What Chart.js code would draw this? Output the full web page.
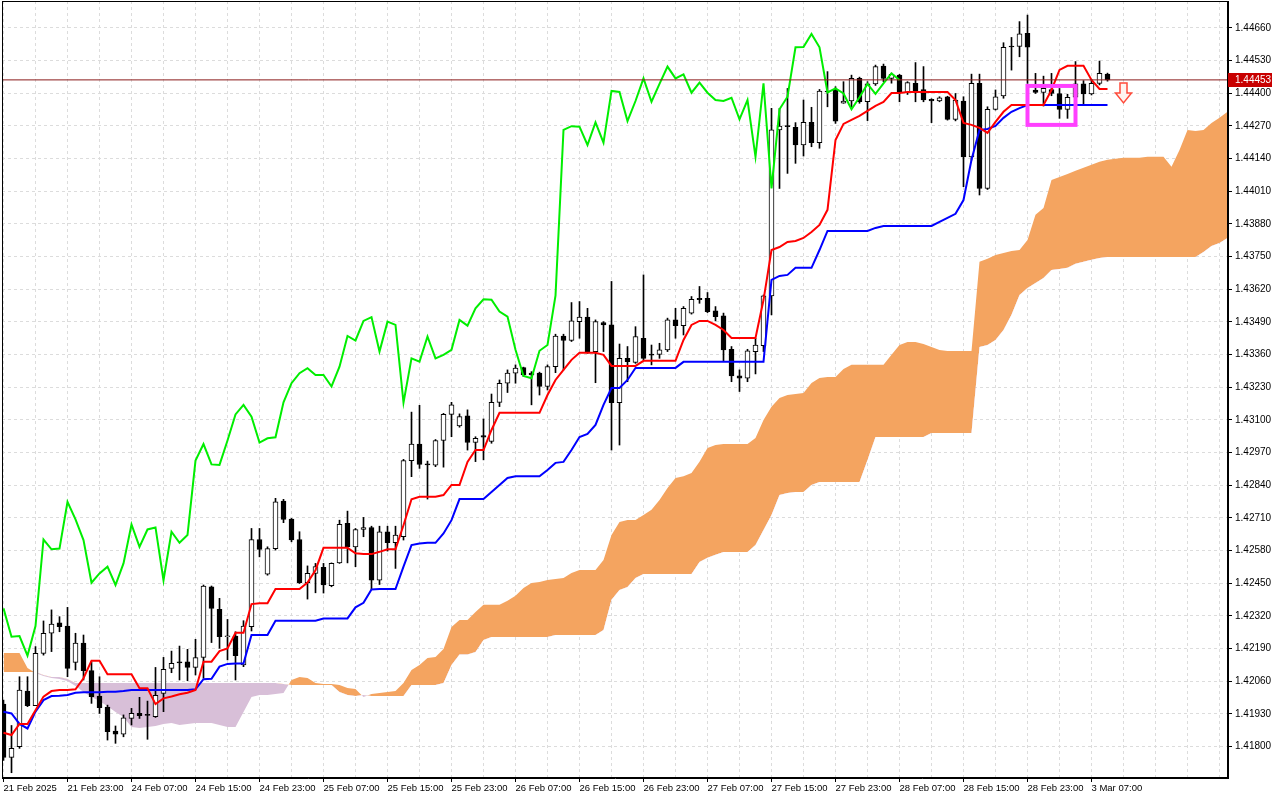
<!DOCTYPE html>
<html>
<head>
<meta charset="utf-8">
<title>H1 Ichimoku</title>
<script src="https://cdn.jsdelivr.net/npm/chart.js@4.4.1/dist/chart.umd.min.js"></script>
<style>
  html, body { margin: 0; padding: 0; background: #fff; }
  #wrap { width: 1280px; height: 800px; }
</style>
</head>
<body>
<div id="wrap"><canvas id="ichimoku" width="1280" height="800"></canvas></div>
<script>
// one bar per hour, bar 0 = 21 Feb 15:00, a label every 8 bars
var xTickLabels = ['21 Feb 2025', '21 Feb 23:00', '24 Feb 07:00', '24 Feb 15:00', '24 Feb 23:00',
  '25 Feb 07:00', '25 Feb 15:00', '25 Feb 23:00', '26 Feb 07:00', '26 Feb 15:00', '26 Feb 23:00',
  '27 Feb 07:00', '27 Feb 15:00', '27 Feb 23:00', '28 Feb 07:00', '28 Feb 15:00', '28 Feb 23:00',
  '3 Mar 07:00'];

var yTicks = [1.41800, 1.41930, 1.42060, 1.42190, 1.42320, 1.42450, 1.42580, 1.42710, 1.42840,
  1.42970, 1.43100, 1.43230, 1.43360, 1.43490, 1.43620, 1.43750, 1.43880, 1.44010, 1.44140,
  1.44270, 1.44400, 1.44530, 1.44660];

var opens = [1.41969,1.41757,1.41800,1.42021,1.41963,1.42171,1.42251,1.42292,1.42280,1.42135,
  1.42212,1.42102,1.42001,1.41957,1.41862,1.41849,1.41912,1.41932,1.41926,1.41919,
  1.42012,1.42111,1.42133,1.42137,1.42115,1.42155,1.42436,1.42346,1.42237,1.42240,
  1.42125,1.42277,1.42624,1.42486,1.42588,1.42777,1.42705,1.42624,1.42452,1.42489,
  1.42513,1.42440,1.42531,1.42688,1.42595,1.42664,1.42672,1.42462,1.42655,1.42611,
  1.42635,1.42938,1.43004,1.42922,1.42920,1.43018,1.43122,1.43076,1.43116,1.43010,
  1.43038,1.43014,1.43170,1.43246,1.43286,1.43308,1.43286,1.43286,1.43233,1.43312,
  1.43434,1.43416,1.43491,1.43509,1.43372,1.43487,1.43478,1.43169,1.43345,1.43329,
  1.43425,1.43358,1.43361,1.43379,1.43498,1.43475,1.43525,1.43584,1.43584,1.43534,
  1.43514,1.43381,1.43275,1.43266,1.43372,1.43395,1.43593,1.44254,1.44267,1.44264,
  1.44194,1.44284,1.44203,1.44409,1.44415,1.44360,1.44369,1.44459,1.44366,1.44437,
  1.44508,1.44459,1.44472,1.44402,1.44439,1.44415,1.44376,1.44369,1.44386,1.44296,
  1.44369,1.44147,1.44439,1.44021,1.44336,1.44389,1.44586,1.44586,1.44638,1.44413,
  1.44403,1.44415,1.44399,1.44336,1.44384,1.44437,1.44397,1.44439,1.44476];

var highs = [1.41985,1.41884,1.42078,1.42078,1.42198,1.42300,1.42344,1.42317,1.42354,1.42251,
  1.42244,1.42138,1.42078,1.41965,1.41882,1.41926,1.41952,1.41996,1.41981,1.42115,
  1.42155,1.42180,1.42200,1.42187,1.42227,1.42443,1.42439,1.42390,1.42306,1.42257,
  1.42301,1.42668,1.42668,1.42595,1.42788,1.42784,1.42708,1.42655,1.42519,1.42529,
  1.42529,1.42531,1.42701,1.42737,1.42668,1.42712,1.42677,1.42677,1.42677,1.42677,
  1.42943,1.43131,1.43158,1.42936,1.43022,1.43126,1.43170,1.43124,1.43140,1.43033,
  1.43104,1.43203,1.43259,1.43299,1.43319,1.43310,1.43292,1.43290,1.43319,1.43441,
  1.43441,1.43567,1.43571,1.43544,1.43498,1.43491,1.43651,1.43402,1.43392,1.43471,
  1.43677,1.43398,1.43405,1.43505,1.43544,1.43551,1.43591,1.43631,1.43607,1.43551,
  1.43525,1.43392,1.43299,1.43381,1.43425,1.43597,1.44340,1.44340,1.44419,1.44283,
  1.44373,1.44344,1.44415,1.44486,1.44426,1.44446,1.44472,1.44464,1.44446,1.44512,
  1.44516,1.44480,1.44475,1.44446,1.44522,1.44506,1.44378,1.44386,1.44388,1.44399,
  1.44386,1.44476,1.44476,1.44346,1.44413,1.44601,1.44622,1.44685,1.44711,1.44479,
  1.44468,1.44479,1.44419,1.44396,1.44526,1.44450,1.44453,1.44528,1.44480];

var lows = [1.41745,1.41696,1.41793,1.41959,1.41963,1.42164,1.42178,1.42257,1.42078,1.42105,
  1.42065,1.41972,1.41932,1.41826,1.41813,1.41839,1.41886,1.41912,1.41829,1.41916,
  1.41939,1.42094,1.42065,1.42062,1.42085,1.42072,1.42214,1.42191,1.42145,1.42065,
  1.42118,1.42260,1.42555,1.42482,1.42582,1.42691,1.42615,1.42449,1.42387,1.42412,
  1.42411,1.42436,1.42529,1.42531,1.42516,1.42635,1.42425,1.42445,1.42578,1.42509,
  1.42622,1.42874,1.42907,1.42785,1.42914,1.42912,1.43033,1.43071,1.42980,1.42934,
  1.42941,1.43007,1.43153,1.43209,1.43246,1.43272,1.43160,1.43199,1.43219,1.43288,
  1.43299,1.43412,1.43425,1.43365,1.43248,1.43372,1.42980,1.43000,1.43252,1.43325,
  1.43339,1.43319,1.43345,1.43372,1.43425,1.43438,1.43521,1.43564,1.43527,1.43494,
  1.43332,1.43252,1.43213,1.43252,1.43283,1.43372,1.43518,1.44021,1.44081,1.44121,
  1.44150,1.44187,1.44181,1.44346,1.44280,1.44360,1.44340,1.44360,1.44291,1.44431,
  1.44446,1.44440,1.44366,1.44395,1.44366,1.44366,1.44283,1.44366,1.44293,1.44290,
  1.44028,1.44134,1.43995,1.44017,1.44333,1.44380,1.44492,1.44545,1.44439,1.44399,
  1.44349,1.44390,1.44300,1.44300,1.44370,1.44357,1.44393,1.44433,1.44448];

var closes = [1.41757,1.41793,1.42025,1.41963,1.42171,1.42251,1.42288,1.42277,1.42111,1.42212,
  1.42102,1.41999,1.41955,1.41859,1.41849,1.41914,1.41932,1.41923,1.41924,1.42004,
  1.42107,1.42131,1.42134,1.42115,1.42154,1.42439,1.42350,1.42237,1.42240,1.42162,
  1.42280,1.42624,1.42585,1.42588,1.42774,1.42704,1.42622,1.42452,1.42489,1.42516,
  1.42443,1.42529,1.42684,1.42595,1.42664,1.42672,1.42462,1.42655,1.42611,1.42642,
  1.42938,1.43004,1.42923,1.42921,1.43018,1.43122,1.43160,1.43113,1.43010,1.43027,
  1.43031,1.43170,1.43246,1.43286,1.43306,1.43279,1.43279,1.43233,1.43312,1.43434,
  1.43416,1.43494,1.43509,1.43372,1.43491,1.43478,1.43169,1.43345,1.43332,1.43432,
  1.43345,1.43359,1.43379,1.43498,1.43475,1.43544,1.43580,1.43578,1.43531,1.43511,
  1.43379,1.43275,1.43266,1.43375,1.43398,1.43594,1.44254,1.44269,1.44267,1.44194,
  1.44284,1.44203,1.44409,1.44405,1.44289,1.44369,1.44459,1.44366,1.44437,1.44506,
  1.44459,1.44475,1.44402,1.44442,1.44402,1.44373,1.44369,1.44382,1.44296,1.44373,
  1.44147,1.44439,1.44021,1.44336,1.44386,1.44583,1.44584,1.44636,1.44583,1.44403,
  1.44419,1.44399,1.44336,1.44384,1.44437,1.44397,1.44439,1.44479,1.44453];

// red line
var tenkan = [1.41855,1.41846,1.41890,1.41890,1.41945,1.41999,1.42021,1.42025,1.42025,1.42028,
  1.42072,1.42142,1.42142,1.42088,1.42088,1.42088,1.42088,1.42032,1.42032,1.41969,
  1.41992,1.41999,1.42008,1.42014,1.42025,1.42138,1.42138,1.42180,1.42191,1.42253,
  1.42253,1.42367,1.42370,1.42370,1.42427,1.42427,1.42427,1.42427,1.42453,1.42502,
  1.42591,1.42591,1.42591,1.42591,1.42569,1.42566,1.42566,1.42575,1.42585,1.42585,
  1.42681,1.42784,1.42794,1.42794,1.42794,1.42801,1.42841,1.42841,1.42933,1.42980,
  1.42980,1.43060,1.43128,1.43128,1.43128,1.43128,1.43128,1.43128,1.43199,1.43259,
  1.43299,1.43339,1.43367,1.43367,1.43367,1.43359,1.43315,1.43315,1.43315,1.43315,
  1.43335,1.43335,1.43335,1.43335,1.43335,1.43418,1.43478,1.43494,1.43494,1.43478,
  1.43458,1.43426,1.43426,1.43426,1.43426,1.43577,1.43776,1.43788,1.43808,1.43812,
  1.43824,1.43848,1.43876,1.43936,1.44214,1.44278,1.44294,1.44310,1.44330,1.44350,
  1.44365,1.44401,1.44401,1.44405,1.44405,1.44405,1.44405,1.44405,1.44405,1.44373,
  1.44282,1.44274,1.44262,1.44242,1.44286,1.44326,1.44353,1.44353,1.44353,1.44353,
  1.44353,1.44413,1.44493,1.44509,1.44509,1.44509,1.44453,1.44417,1.44417];

// blue line
var kijun = [1.41939,1.41932,1.41890,1.41872,1.41939,1.41985,1.42001,1.42002,1.42005,1.42014,
  1.42016,1.42016,1.42016,1.42018,1.42018,1.42021,1.42025,1.42025,1.42025,1.42025,
  1.42025,1.42025,1.42025,1.42025,1.42028,1.42068,1.42070,1.42118,1.42129,1.42131,
  1.42131,1.42244,1.42244,1.42244,1.42301,1.42301,1.42301,1.42301,1.42301,1.42301,
  1.42310,1.42310,1.42310,1.42310,1.42354,1.42372,1.42425,1.42427,1.42427,1.42427,
  1.42516,1.42602,1.42608,1.42611,1.42611,1.42648,1.42701,1.42785,1.42785,1.42785,
  1.42785,1.42813,1.42841,1.42869,1.42876,1.42876,1.42876,1.42876,1.42901,1.42929,
  1.42933,1.42980,1.43032,1.43044,1.43080,1.43160,1.43227,1.43227,1.43259,1.43307,
  1.43307,1.43307,1.43307,1.43307,1.43307,1.43331,1.43331,1.43331,1.43331,1.43331,
  1.43331,1.43331,1.43331,1.43331,1.43331,1.43331,1.43657,1.43673,1.43677,1.43705,
  1.43705,1.43705,1.43776,1.43852,1.43852,1.43852,1.43852,1.43852,1.43852,1.43864,
  1.43872,1.43872,1.43872,1.43872,1.43872,1.43872,1.43872,1.43888,1.43904,1.43920,
  1.43975,1.44135,1.44254,1.44258,1.44270,1.44302,1.44326,1.44341,1.44353,1.44353,
  1.44353,1.44353,1.44353,1.44353,1.44353,1.44353,1.44353,1.44353,1.44353];

// green line, plotted 26 bars back
var chikou = [1.42350,1.42237,1.42240,1.42162,1.42280,1.42624,1.42585,1.42588,1.42774,1.42704,
  1.42622,1.42452,1.42489,1.42516,1.42443,1.42529,1.42684,1.42595,1.42664,1.42672,
  1.42462,1.42655,1.42611,1.42642,1.42938,1.43004,1.42923,1.42921,1.43018,1.43122,
  1.43160,1.43113,1.43010,1.43027,1.43031,1.43170,1.43246,1.43286,1.43306,1.43279,
  1.43279,1.43233,1.43312,1.43434,1.43416,1.43494,1.43509,1.43372,1.43491,1.43478,
  1.43169,1.43345,1.43332,1.43432,1.43345,1.43359,1.43379,1.43498,1.43475,1.43544,
  1.43580,1.43578,1.43531,1.43511,1.43379,1.43275,1.43266,1.43375,1.43398,1.43594,
  1.44254,1.44269,1.44267,1.44194,1.44284,1.44203,1.44409,1.44405,1.44289,1.44369,
  1.44459,1.44366,1.44437,1.44506,1.44459,1.44475,1.44402,1.44442,1.44402,1.44373,
  1.44369,1.44382,1.44296,1.44373,1.44147,1.44439,1.44021,1.44336,1.44386,1.44583,
  1.44584,1.44636,1.44583,1.44403,1.44419,1.44399,1.44336,1.44384,1.44437,1.44397,
  1.44439,1.44479,1.44453];

// cloud, runs 15 bars past the last candle
var senkouA = [1.42172,1.42172,1.42172,1.42113,1.42093,1.42081,1.42073,1.42069,1.42061,1.42041,
  1.42017,1.41997,1.41981,1.41961,1.41938,1.41918,1.41878,1.41874,1.41878,1.41882,
  1.41890,1.41894,1.41886,1.41890,1.41894,1.41894,1.41894,1.41886,1.41878,1.41878,
  1.41938,1.41997,1.42005,1.42005,1.42009,1.42013,1.42065,1.42077,1.42073,1.42053,
  1.42049,1.42049,1.42045,1.42033,1.42029,1.41997,1.42009,1.42013,1.42017,1.42021,
  1.42053,1.42105,1.42125,1.42153,1.42157,1.42188,1.42276,1.42304,1.42304,1.42336,
  1.42364,1.42364,1.42364,1.42380,1.42400,1.42431,1.42451,1.42455,1.42463,1.42467,
  1.42471,1.42491,1.42503,1.42503,1.42503,1.42543,1.42642,1.42694,1.42702,1.42702,
  1.42722,1.42742,1.42781,1.42829,1.42869,1.42876,1.42889,1.42933,1.42988,1.43000,
  1.43004,1.43004,1.43004,1.43004,1.43028,1.43100,1.43152,1.43187,1.43199,1.43203,
  1.43207,1.43247,1.43267,1.43271,1.43271,1.43303,1.43319,1.43319,1.43319,1.43319,
  1.43319,1.43359,1.43398,1.43410,1.43410,1.43402,1.43390,1.43378,1.43374,1.43374,
  1.43374,1.43374,1.43729,1.43741,1.43756,1.43764,1.43772,1.43776,1.43816,1.43916,
  1.43943,1.44055,1.44067,1.44079,1.44091,1.44103,1.44115,1.44127,1.44135,1.44139,
  1.44143,1.44143,1.44143,1.44147,1.44147,1.44147,1.44107,1.44174,1.44254,1.44250,
  1.44254,1.44282,1.44302,1.44326];

var senkouB = [1.42097,1.42097,1.42097,1.42097,1.42097,1.42085,1.42077,1.42077,1.42069,1.42053,
  1.42053,1.42053,1.42053,1.42053,1.42053,1.42053,1.42053,1.42053,1.42053,1.42053,
  1.42053,1.42053,1.42053,1.42053,1.42053,1.42053,1.42053,1.42053,1.42053,1.42053,
  1.42053,1.42053,1.42053,1.42053,1.42053,1.42049,1.42045,1.42045,1.42045,1.42045,
  1.42045,1.42045,1.42017,1.42005,1.42001,1.42005,1.42001,1.42001,1.42001,1.42001,
  1.42001,1.42045,1.42045,1.42045,1.42045,1.42053,1.42125,1.42166,1.42166,1.42176,
  1.42224,1.42236,1.42236,1.42236,1.42236,1.42236,1.42236,1.42236,1.42236,1.42244,
  1.42244,1.42244,1.42244,1.42244,1.42244,1.42264,1.42384,1.42423,1.42435,1.42471,
  1.42487,1.42487,1.42487,1.42487,1.42487,1.42487,1.42487,1.42535,1.42551,1.42563,
  1.42574,1.42574,1.42574,1.42574,1.42602,1.42662,1.42722,1.42801,1.42809,1.42813,
  1.42813,1.42841,1.42853,1.42853,1.42853,1.42853,1.42853,1.42853,1.42940,1.43032,
  1.43032,1.43032,1.43032,1.43032,1.43032,1.43032,1.43048,1.43048,1.43048,1.43048,
  1.43048,1.43048,1.43390,1.43398,1.43418,1.43458,1.43518,1.43597,1.43625,1.43645,
  1.43665,1.43697,1.43701,1.43705,1.43721,1.43729,1.43737,1.43744,1.43748,1.43748,
  1.43748,1.43748,1.43748,1.43748,1.43748,1.43748,1.43748,1.43748,1.43748,1.43748,
  1.43768,1.43792,1.43804,1.43824];

var lastPrice = 1.44453;

// marked range and sell arrow
var boxFrom = 128, boxTo = 134, boxHigh = 1.44429, boxLow = 1.44274;
var arrowBar = 140, arrowTop = 1.44441;

var xMin = -0.1875, xMax = 153.0625;
var yMin = 1.41675, yMax = 1.44767;

function pts(arr) {
  return arr.map(function (v, i) { return { x: i, y: v }; });
}

function isLabelTick(v) {
  return v % 8 === 0 && xTickLabels[v / 8] !== undefined;
}

// no label padding around the plot, MT4 style
function noPad(scale) {
  scale.paddingTop = 0;
  scale.paddingBottom = 0;
  scale.paddingLeft = 0;
  scale.paddingRight = 0;
}

var frame = {
  id: 'frame',
  beforeDraw: function (chart) {
    var ctx = chart.ctx;
    ctx.save();
    ctx.fillStyle = '#fff';
    ctx.fillRect(0, 0, chart.width, chart.height);
    ctx.restore();
  },
  afterDraw: function (chart) {
    var ctx = chart.ctx, a = chart.chartArea;
    var xs = chart.scales.x, ys = chart.scales.y;
    ctx.save();

    // magenta box
    var bx1 = xs.getPixelForValue(boxFrom), bx2 = xs.getPixelForValue(boxTo);
    var by1 = ys.getPixelForValue(boxHigh), by2 = ys.getPixelForValue(boxLow);
    ctx.strokeStyle = '#ff40ff';
    ctx.lineWidth = 4;
    ctx.strokeRect(bx1, by1, bx2 - bx1, by2 - by1);

    // down arrow
    var cx = xs.getPixelForValue(arrowBar), ty = ys.getPixelForValue(arrowTop);
    ctx.beginPath();
    ctx.moveTo(cx - 3.5, ty);
    ctx.lineTo(cx + 3.5, ty);
    ctx.lineTo(cx + 3.5, ty + 10);
    ctx.lineTo(cx + 8, ty + 10);
    ctx.lineTo(cx, ty + 20);
    ctx.lineTo(cx - 8, ty + 10);
    ctx.lineTo(cx - 3.5, ty + 10);
    ctx.closePath();
    ctx.fillStyle = '#fff4f0';
    ctx.fill();
    ctx.strokeStyle = '#ff4a3a';
    ctx.lineWidth = 1.5;
    ctx.stroke();

    // frame
    ctx.strokeStyle = '#000';
    ctx.lineWidth = 1;
    ctx.strokeRect(a.left + 0.5, a.top + 0.5, a.right - a.left - 1, a.bottom - a.top - 1);

    // last price tag
    var py = Math.round(ys.getPixelForValue(lastPrice));
    ctx.fillStyle = '#c80000';
    ctx.fillRect(a.right, py - 7, 44, 14);
    ctx.fillStyle = '#fff';
    ctx.font = '10px "Liberation Sans", Arial, sans-serif';
    ctx.textBaseline = 'middle';
    ctx.textAlign = 'left';
    ctx.fillText(lastPrice.toFixed(5), a.right + 7, py + 0.5);
    ctx.restore();
  }
};

Chart.defaults.font.family = '"Liberation Sans", Arial, sans-serif';
Chart.defaults.font.size = 10;
Chart.defaults.color = '#000';

var ctx = document.getElementById('ichimoku');

var chart = new Chart(ctx, {
  type: 'line',
  data: {
    datasets: [{
      label: 'Senkou A',
      data: pts(senkouA),
      borderColor: 'rgba(0,0,0,0)',
      borderWidth: 0,
      pointRadius: 0,
      fill: { target: '+1', above: '#f4a460', below: '#d8bfd8' },
      order: 10
    }, {
      label: 'Senkou B',
      data: pts(senkouB),
      borderColor: 'rgba(0,0,0,0)',
      borderWidth: 0,
      pointRadius: 0,
      fill: false,
      order: 10
    }, {
      type: 'bar',
      label: 'Wicks',
      data: lows.map(function (l, i) { return { x: i, y: [l, highs[i]] }; }),
      backgroundColor: '#000',
      barThickness: 1,
      grouped: false,
      order: 6
    }, {
      type: 'bar',
      label: 'Bodies',
      data: opens.map(function (o, i) { return { x: i, y: [o, closes[i]] }; }),
      backgroundColor: function (c) {
        var i = c.dataIndex;
        return closes[i] - opens[i] > 0.00003 ? '#fff' : '#000';
      },
      borderColor: '#000',
      borderWidth: 1,
      borderSkipped: false,
      barThickness: 5,
      minBarLength: 1,
      grouped: false,
      order: 5
    }, {
      label: 'Chikou',
      data: pts(chikou),
      borderColor: '#00ee00',
      borderWidth: 2,
      pointRadius: 0,
      order: 3
    }, {
      label: 'Kijun',
      data: pts(kijun),
      borderColor: '#0000ff',
      borderWidth: 2,
      pointRadius: 0,
      order: 2
    }, {
      label: 'Tenkan',
      data: pts(tenkan),
      borderColor: '#ff0000',
      borderWidth: 2,
      pointRadius: 0,
      order: 1
    }, {
      label: 'Price',
      data: [{ x: xMin, y: lastPrice }, { x: xMax, y: lastPrice }],
      borderColor: '#8a1a1a',
      borderWidth: 1,
      pointRadius: 0,
      order: 0
    }]
  },
  options: {
    responsive: false,
    animation: false,
    devicePixelRatio: 1,
    events: [],
    layout: { padding: { left: 2, top: 1, right: 0, bottom: 0 } },
    elements: { line: { tension: 0 } },
    plugins: {
      legend: { display: false },
      tooltip: { enabled: false }
    },
    scales: {
      x: {
        type: 'linear',
        offset: false,
        min: xMin,
        max: xMax,
        afterBuildTicks: function (scale) {
          var t = [];
          for (var v = 0; v <= 152; v += 4) t.push({ value: v });
          scale.ticks = t;
        },
        afterFit: function (scale) { scale.height = 22; noPad(scale); },
        grid: {
          offset: false,
          color: '#dcdcdc',
          tickLength: 4,
          tickColor: function (c) {
            return c.tick && isLabelTick(c.tick.value) ? '#000' : 'rgba(0,0,0,0)';
          }
        },
        border: { display: true, color: '#000', dash: [3, 3] },
        ticks: {
          autoSkip: false,
          maxRotation: 0,
          align: 'start',
          padding: 1,
          font: { size: 9.5 },
          callback: function (v) { return isLabelTick(v) ? xTickLabels[v / 8] : ''; }
        }
      },
      y: {
        type: 'linear',
        position: 'right',
        min: yMin,
        max: yMax,
        afterBuildTicks: function (scale) {
          scale.ticks = yTicks.map(function (v) { return { value: v }; });
        },
        afterFit: function (scale) { scale.width = 52; noPad(scale); },
        grid: { color: '#dcdcdc', tickLength: 4, tickColor: '#000' },
        border: { display: true, color: '#000', dash: [3, 3] },
        ticks: {
          padding: 3,
          callback: function (v) { return v.toFixed(5); }
        }
      }
    }
  },
  plugins: [frame]
});
</script>
</body>
</html>
